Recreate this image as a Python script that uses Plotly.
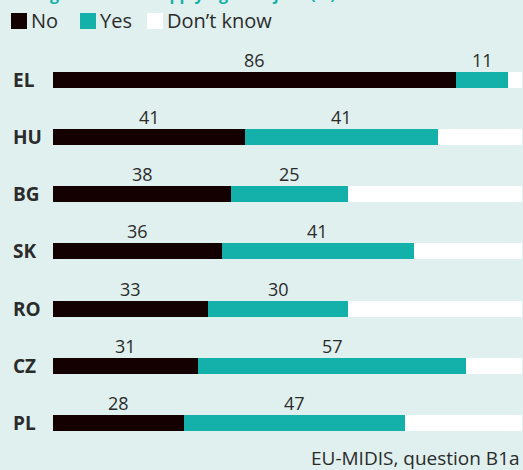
import plotly.graph_objects as go

countries = ["EL", "HU", "BG", "SK", "RO", "CZ", "PL"]
no_vals = [86, 41, 38, 36, 33, 31, 28]
yes_vals = [11, 41, 25, 41, 30, 57, 47]
dk_vals = [100 - n - y for n, y in zip(no_vals, yes_vals)]
series_names = ["No", "Yes", "Don\u2019t know"]
title_text = "background when applying for a job? (%)"
source_text = "EU-MIDIS, question B1a"

C_NO = "#140000"
C_YES = "#14b1aa"
C_DK = "#ffffff"
BG = "#dff0ee"
FONT = "Open Sans"
TXT = "#2b2b2b"

W, H = 523, 470
L, R, T, B = 53, 1, 51, 13
pw = W - L - R
ph = H - T - B

def px_x(px):
    return (px - L) / pw

def px_y(py):
    return (H - B - py) / ph

fig = go.Figure()
for name, vals, col in zip(series_names, [no_vals, yes_vals, dk_vals], [C_NO, C_YES, C_DK]):
    fig.add_trace(go.Bar(
        y=countries, x=vals, name=name, orientation="h",
        marker=dict(color=col, line=dict(width=0)),
        width=0.28, showlegend=False, hoverinfo="skip",
    ))

annotations = []
# value labels
for c, n, y in zip(countries, no_vals, yes_vals):
    annotations.append(dict(x=n / 2, y=c, xref="x", yref="y", text=str(n),
                            showarrow=False, yshift=20,
                            font=dict(family=FONT, size=18, color=TXT)))
    annotations.append(dict(x=n + y / 2, y=c, xref="x", yref="y", text=str(y),
                            showarrow=False, yshift=20,
                            font=dict(family=FONT, size=18, color=TXT)))
    annotations.append(dict(x=px_x(11), y=c, xref="paper", yref="y", text="<b>%s</b>" % c,
                            showarrow=False, xanchor="left",
                            font=dict(family=FONT, size=19, color=TXT)))

# legend
shapes = []
leg = [(11, C_NO, series_names[0]), (80, C_YES, series_names[1]), (147, C_DK, series_names[2])]
for x0, col, name in leg:
    shapes.append(dict(type="rect", xref="paper", yref="paper",
                       x0=px_x(x0), x1=px_x(x0 + 16), y0=px_y(29), y1=px_y(13),
                       fillcolor=col, line=dict(width=0)))
    annotations.append(dict(x=px_x(x0 + 18), y=px_y(21), xref="paper", yref="paper",
                            text=name, showarrow=False, xanchor="left", yanchor="middle",
                            font=dict(family=FONT, size=20, color=TXT)))

# title (cropped at top)
annotations.append(dict(x=px_x(10), y=px_y(7.5), xref="paper", yref="paper",
                        text="<b>%s</b>" % title_text, showarrow=False,
                        xanchor="left", yanchor="bottom",
                        font=dict(family=FONT, size=16, color=C_YES)))
# source
annotations.append(dict(x=px_x(522), y=px_y(458), xref="paper", yref="paper",
                        text=source_text, showarrow=False, xanchor="right", yanchor="middle",
                        font=dict(family=FONT, size=19, color=TXT)))

fig.update_layout(
    width=W, height=H,
    margin=dict(l=L, r=R, t=T, b=B),
    barmode="stack",
    paper_bgcolor=BG, plot_bgcolor=BG,
    xaxis=dict(range=[0, 100], visible=False, fixedrange=True),
    yaxis=dict(autorange="reversed", visible=False, type="category"),
    annotations=annotations, shapes=shapes,
    showlegend=False,
)
fig.write_html("out.html", config={"displayModeBar": False},
               post_script="document.body.style.margin='0';document.body.style.overflow='hidden';")
